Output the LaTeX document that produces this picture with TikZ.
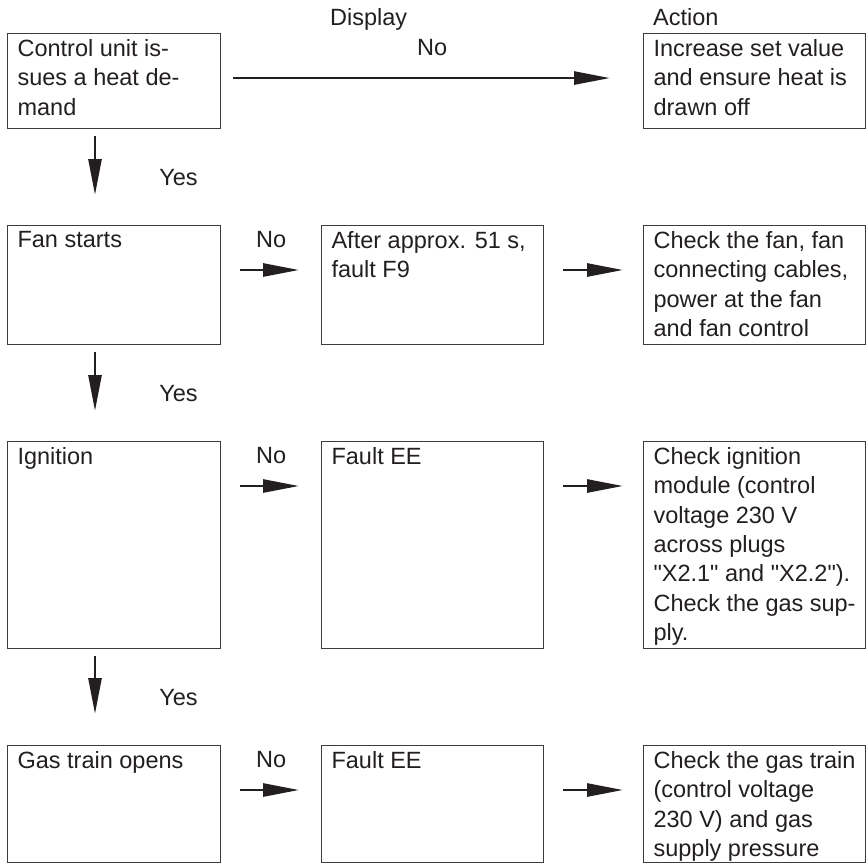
\documentclass[tikz,border=0pt]{standalone}
\usepackage{fontspec}
\setmainfont{Liberation Sans}[Ligatures=TeXOff]
\usetikzlibrary{arrows.meta,calc}
\definecolor{ink}{HTML}{231F20}
\definecolor{boxline}{HTML}{3C3C3C}
\newcommand{\celltext}[3]{\parbox[t][#2][t]{#1}{\raggedright\hyphenpenalty=10000 #3}}
\tikzset{
  cell/.style={draw=boxline,line width=1.1pt,anchor=north west,inner xsep=10pt,inner ysep=6pt,text=ink,font=\fontsize{23.5pt}{29.3pt}\selectfont},
  flow/.style={ink,line width=2.7pt,-{Triangle[length=36pt,width=13pt]}},
  answer/.style={text=ink,inner sep=0pt,font=\fontsize{23.5pt}{29.3pt}\selectfont},
  heading/.style={text=ink,inner sep=0pt,anchor=base west,font=\fontsize{23.5pt}{29.3pt}\selectfont}
}
\begin{document}
\begin{tikzpicture}[x=1pt,y=-1pt]
\useasboundingbox (0,0) rectangle (866,864);
% column headings
\node[heading] (display) at (330,26) {Display};
\node[heading] (action) at (653,26) {Action};
% first row
\node[cell] (demand) at (7,33) {\celltext{193pt}{83pt}{Control unit is-\\sues a heat de-\\mand}};
\node[cell] (raise) at (643,33) {\celltext{202pt}{83pt}{Increase set value\\and ensure heat is\\drawn off}};
% fan
\node[cell] (fan) at (7,225) {\celltext{193pt}{107pt}{Fan starts}};
\node[cell] (f9) at (321,225) {\celltext{202pt}{107pt}{After approx. 51 s,\\fault F9}};
\node[cell] (checkfan) at (643,225) {\celltext{202pt}{107pt}{Check the fan, fan\\connecting cables,\\power at the fan\\and fan control}};
% ignition
\node[cell] (ign) at (7,441) {\celltext{193pt}{195pt}{Ignition}};
\node[cell] (ee1) at (321,441) {\celltext{202pt}{195pt}{Fault EE}};
\node[cell] (checkign) at (643,441) {\celltext{202pt}{195pt}{Check ignition\\module (control\\voltage 230 V\\across plugs\\"X2.1" and "X2.2").\\Check the gas sup-\\ply.}};
% gas train
\node[cell] (gas) at (7,745) {\celltext{193pt}{105pt}{Gas train opens}};
\node[cell] (ee2) at (321,745) {\celltext{202pt}{105pt}{Fault EE}};
\node[cell] (checkgas) at (643,745) {\celltext{202pt}{105pt}{Check the gas train\\(control voltage\\230 V) and gas\\supply pressure}};

\draw[flow,shorten <=12pt,shorten >=33pt] ([yshift=3pt]demand.east) -- node[answer,above=21pt] {No} ([yshift=3pt]raise.west);
\draw[flow,shorten <=7pt,shorten >=30pt] ([xshift=88pt]demand.south west) -- node[answer,right=63pt] {Yes} ([xshift=88pt]fan.north west);
\draw[flow,shorten <=7pt,shorten >=30pt] ([xshift=88pt]fan.south west) -- node[answer,right=63pt] {Yes} ([xshift=88pt]ign.north west);
\draw[flow,shorten <=7pt,shorten >=31pt] ([xshift=88pt]ign.south west) -- node[answer,right=63pt] {Yes} ([xshift=88pt]gas.north west);

\draw[flow,shorten <=19pt,shorten >=22pt] ([yshift=-45pt]fan.north east) -- node[answer,above=21pt] {No} ([yshift=-45pt]f9.north west);
\draw[flow,shorten <=19pt,shorten >=20pt] ([yshift=-45pt]f9.north east) -- ([yshift=-45pt]checkfan.north west);
\draw[flow,shorten <=19pt,shorten >=22pt] ([yshift=-45pt]ign.north east) -- node[answer,above=21pt] {No} ([yshift=-45pt]ee1.north west);
\draw[flow,shorten <=19pt,shorten >=20pt] ([yshift=-45pt]ee1.north east) -- ([yshift=-45pt]checkign.north west);
\draw[flow,shorten <=19pt,shorten >=22pt] ([yshift=-45pt]gas.north east) -- node[answer,above=21pt] {No} ([yshift=-45pt]ee2.north west);
\draw[flow,shorten <=19pt,shorten >=20pt] ([yshift=-45pt]ee2.north east) -- ([yshift=-45pt]checkgas.north west);
\end{tikzpicture}
\end{document}
